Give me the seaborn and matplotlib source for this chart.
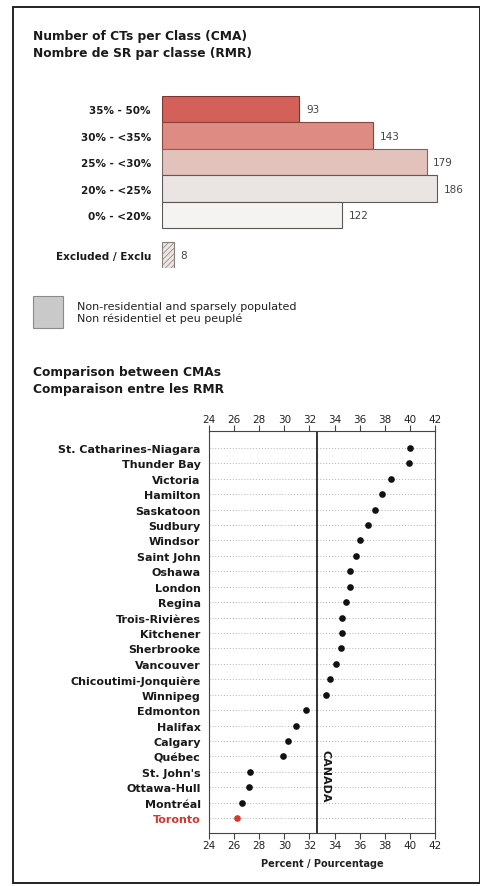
import numpy as np
import pandas as pd
import matplotlib
matplotlib.use("Agg")
import matplotlib.pyplot as plt
from matplotlib.patches import Rectangle
import seaborn as sns

# ---------------------------------------------------------------------------
# DATA
# ---------------------------------------------------------------------------
bar_classes = ["35% - 50%", "30% - <35%", "25% - <30%", "20% - <25%",
               "0% - <20%", "Excluded / Exclu"]
bar_counts = [93, 143, 179, 186, 122, 8]
bar_pos = [0, 1, 2, 3, 4, 5.5]
bar_colors = ["#e84f45", "#ed7f74", "#ebbdb5", "#ebe5e2", "#f5f3f1", "#ece5e2"]
bar_edges = ["#7e3430", "#8a4440", "#7f6462", "#5e5856", "#5a5756", "#8a7f7b"]
bar_hatch = ["", "", "", "", "", "//////"]

cities = ["St. Catharines-Niagara", "Thunder Bay", "Victoria", "Hamilton",
          "Saskatoon", "Sudbury", "Windsor", "Saint John", "Oshawa", "London",
          "Regina", "Trois-Rivières", "Kitchener", "Sherbrooke", "Vancouver",
          "Chicoutimi-Jonquière", "Winnipeg", "Edmonton", "Halifax", "Calgary",
          "Québec", "St. John's", "Ottawa-Hull", "Montréal", "Toronto"]
city_values = [40.0, 39.9, 38.5, 37.8, 37.2, 36.7, 36.0, 35.7, 35.2, 35.2,
               34.9, 34.6, 34.6, 34.5, 34.1, 33.6, 33.3, 31.7, 30.9, 30.3,
               29.9, 27.3, 27.2, 26.6, 26.2]
highlight_city = "Toronto"
canada_value = 32.6
x_ticks = [24, 26, 28, 30, 32, 34, 36, 38, 40, 42]

# ---------------------------------------------------------------------------
# STYLE
# ---------------------------------------------------------------------------
sns.set_theme(style="white")
plt.rcParams["font.family"] = ["DejaVu Sans"]
plt.rcParams["hatch.linewidth"] = 0.5

INK = "#1a1a1a"
RED = "#d8372c"

W, H = 481, 887
fig = plt.figure(figsize=(W / 100, H / 100), dpi=100)
fig.patch.set_facecolor("white")

def fx(px):
    return px / W

def fy(py):
    return 1 - py / H

# outer frame
fig.add_artist(Rectangle((fx(13), fy(884)), fx(480) - fx(13), fy(8) - fy(884),
                         transform=fig.transFigure, fill=False,
                         edgecolor="#222222", linewidth=1.4))

# ---------------------------------------------------------------------------
# TOP: number of CTs per class
# ---------------------------------------------------------------------------
fig.text(fx(33), fy(30), "Number of CTs per Class (CMA)\nNombre de SR par classe (RMR)",
         ha="left", va="top", fontsize=8.8, fontweight="bold", color=INK,
         linespacing=1.45)

ax1 = fig.add_axes([fx(162), fy(269), 295.6 / W, 172 / H])
df_bars = pd.DataFrame({"cls": bar_classes, "count": bar_counts, "pos": bar_pos})
sns.barplot(data=df_bars, x="count", y="pos", hue="cls", palette=bar_colors,
            orient="h", native_scale=True, dodge=False, width=1.0,
            errorbar=None, legend=False, ax=ax1)

for p in ax1.patches:
    yc = p.get_y() + p.get_height() / 2
    i = int(np.argmin([abs(yc - b) for b in bar_pos]))
    p.set_edgecolor(bar_edges[i])
    p.set_linewidth(0.8)
    if bar_hatch[i]:
        p.set_hatch(bar_hatch[i])

ax1.set_xlim(0, 200)
ax1.set_ylim(6.0, -0.5)
ax1.set_yticks(bar_pos)
ax1.set_yticklabels(bar_classes, fontsize=7.5, fontweight="bold", color=INK)
ax1.set_xticks([])
ax1.set_xlabel("")
ax1.set_ylabel("")
ax1.tick_params(axis="y", length=0, pad=8)
for s in ax1.spines.values():
    s.set_visible(False)
for pos, cnt in zip(bar_pos, bar_counts):
    ax1.text(cnt + 4.5, pos, str(cnt), va="center", ha="left", fontsize=7.5,
             color="#444444")

# key for non-residential areas
fig.add_artist(Rectangle((fx(33), fy(329)), 30 / W, 32 / H,
                         transform=fig.transFigure, facecolor="#c9c9c9",
                         edgecolor="#8a8a8a", linewidth=0.8))
fig.text(fx(77), fy(313), "Non-residential and sparsely populated\nNon résidentiel et peu peuplé",
         ha="left", va="center", fontsize=8, color="#222222", linespacing=1.2)

# ---------------------------------------------------------------------------
# BOTTOM: comparison between CMAs
# ---------------------------------------------------------------------------
fig.text(fx(33), fy(366), "Comparison between CMAs\nComparaison entre les RMR",
         ha="left", va="top", fontsize=8.8, fontweight="bold", color=INK,
         linespacing=1.45)

ax2 = fig.add_axes([fx(209), fy(834), 226 / W, 402 / H])
df_cma = pd.DataFrame({"city": cities, "value": city_values})
df_cma["group"] = np.where(df_cma["city"] == highlight_city, "hl", "other")
sns.stripplot(data=df_cma, x="value", y="city", hue="group",
              palette={"other": "#111111", "hl": RED},
              jitter=False, size=4.8, linewidth=0, legend=False, ax=ax2, zorder=3)

ax2.set_xlim(24, 42)
ax2.set_ylim(24.97, -1.10)
ax2.set_xticks(x_ticks)
ax2.set_xticklabels([str(t) for t in x_ticks])
ax2.tick_params(axis="x", top=True, labeltop=True, bottom=True, labelbottom=True,
                direction="out", length=4, width=0.8, color="#444444",
                labelsize=7.5, labelcolor="#222222", pad=1)
ax2.tick_params(axis="y", length=0, labelsize=8, pad=6)
for lab in ax2.get_yticklabels():
    lab.set_fontweight("bold")
    lab.set_color(RED if lab.get_text() == highlight_city else INK)

ax2.grid(axis="y", linestyle=(0, (1, 2)), color="#b0b0b0", linewidth=0.7)
ax2.grid(axis="x", visible=False)
for s in ax2.spines.values():
    s.set_visible(True)
    s.set_color("#444444")
    s.set_linewidth(0.8)

ax2.axvline(canada_value, color="#111111", linewidth=1.2, zorder=2)
ax2.text(canada_value + 0.7, 21.2, "CANADA", rotation=270, ha="center",
         va="center", fontsize=8, fontweight="bold", color=INK)

ax2.set_ylabel("")
ax2.set_xlabel("Percent / Pourcentage", fontsize=7, fontweight="bold",
               color="#222222", labelpad=6)

fig.savefig("out.png", dpi=100)
plt.close(fig)
